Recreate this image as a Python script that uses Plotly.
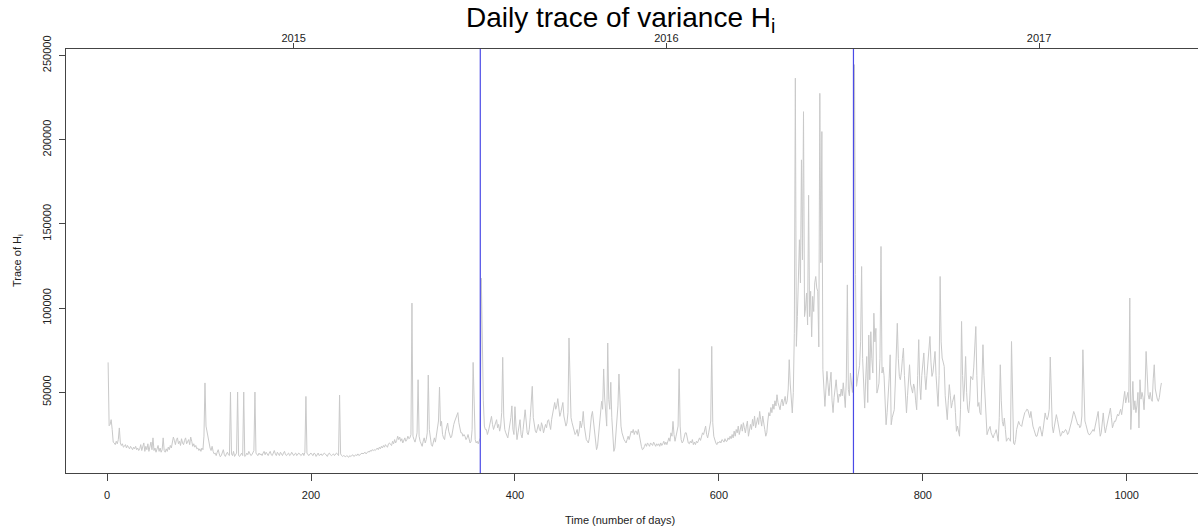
import plotly.graph_objects as go

# ---------------- data (values in thousands) ----------------
vals_2015 = [
    67.8, 30.2, 31.0, 33.8, 28.0, 20.5, 20.0, 19.0, 21.0, 19.5,
    22.0, 28.9, 20.0, 18.5, 19.5, 17.5, 18.0, 19.0, 17.0, 18.5,
    17.5, 16.5, 18.0, 17.0, 16.0, 17.5, 16.5, 18.0, 16.0, 17.0,
    15.5, 16.5, 19.0, 15.5, 17.5, 20.0, 15.0, 18.0, 16.0, 19.5,
    15.0, 17.5, 20.5, 16.0, 23.0, 15.5, 17.0, 14.5, 16.5, 18.5,
    15.0, 17.0, 14.5, 16.0, 23.0, 15.5, 14.5, 16.5, 15.0, 17.5,
    16.0, 18.5, 17.0, 20.0, 23.5, 21.5, 19.0, 22.0, 23.0, 19.5,
    21.0, 18.5, 22.5, 20.0, 19.0, 21.5, 23.0, 19.5, 20.5, 22.0,
    19.0, 23.5, 21.0, 18.0, 19.5, 17.5, 18.5, 16.5, 17.0, 15.5,
    16.5, 15.0, 17.0, 16.0, 24.0, 55.6, 30.0, 26.0, 23.0, 19.0,
    17.0, 15.5, 18.0, 15.0, 13.5, 14.0, 12.5, 14.5, 16.0, 13.5,
    11.8, 12.5, 14.5, 16.0, 13.0, 12.0, 13.5, 14.5, 13.0, 12.5,
    50.2, 13.5, 12.5, 15.0, 12.0, 13.0, 14.0, 50.2, 12.5, 12.0,
    13.5, 14.0, 12.5, 50.2, 12.0, 12.5, 14.0, 13.0, 15.0, 14.0,
    12.5, 13.0, 14.5, 15.5, 50.2, 14.0, 13.0, 12.5, 14.0, 13.0,
    13.5, 12.5, 14.0, 15.0, 13.0, 14.5, 13.5, 12.5, 14.0, 15.0,
    13.0, 12.5, 14.0, 15.5, 13.5, 12.5, 14.5, 13.0, 12.5, 14.5,
    13.5, 12.5, 14.0, 15.0, 13.0, 12.5, 13.5, 14.0, 12.5, 13.0,
    14.5, 13.0, 12.5, 13.5, 14.0, 12.5, 13.0, 14.0, 13.5, 12.5,
    13.0, 14.0, 12.5, 14.5, 47.6, 14.0, 13.0, 12.5, 13.5, 14.0,
    13.0, 12.5, 14.0, 13.5, 12.0, 13.0, 14.0, 12.5, 13.0, 13.5,
    12.5, 13.0, 14.0, 13.5, 12.5, 12.0, 13.5, 14.0, 13.0, 12.5,
    13.0, 13.5, 12.5, 13.0, 14.0, 13.5, 12.5, 48.4, 13.5, 12.5,
    12.0, 12.5, 12.0, 11.8, 12.5, 12.0, 11.5, 12.5, 12.0, 12.5,
    13.0, 12.0, 12.5, 13.0, 12.5, 13.5, 12.5, 13.0, 13.5, 14.0,
    13.5, 14.0, 14.5, 13.5, 14.0, 15.0, 14.5, 15.5, 15.0, 16.0,
    15.5, 16.0, 15.5, 16.5, 17.0, 16.0, 17.5, 16.5, 18.0, 17.0,
    18.5, 17.5, 19.0, 18.0, 17.5, 19.5, 20.0, 19.0, 18.5, 21.0,
    19.5, 22.0, 20.0, 21.5, 24.0, 22.0, 23.5, 21.0, 22.5, 20.0,
    21.5, 23.0, 21.0, 22.0, 24.0, 22.5, 23.0, 25.0, 103.0, 24.0,
    22.0, 20.5, 23.0, 26.0, 57.5, 24.0, 21.0, 19.0, 18.0, 21.0,
    23.0, 20.0, 22.0, 26.0, 60.3, 28.0, 22.0, 19.0, 18.0, 21.0,
    23.0, 20.5, 25.0, 28.0, 33.0, 53.2, 30.0, 32.8, 25.0, 23.0,
    22.0, 27.0, 29.0, 31.8, 27.0, 25.0, 23.0, 24.0, 28.0, 31.0,
    33.0, 35.0, 36.0, 38.0, 32.0, 28.0, 26.0, 26.0, 24.0, 25.0,
    24.0, 22.0, 23.0, 25.0, 22.0, 20.0, 21.0, 28.0, 67.8, 36.0,
    22.0, 20.0, 21.0, 19.5, 21.0,
]

vals_2016 = [
    23.0, 117.8, 61.5, 45.0, 30.0,
    27.9, 28.0, 25.0, 27.0, 30.0, 32.0, 35.8, 31.0, 28.0, 30.0,
    33.0, 33.8, 29.0, 31.0, 27.0, 30.0, 38.0, 70.8, 36.0, 28.0,
    26.0, 24.9, 23.0, 27.0, 30.0, 35.0, 42.0, 28.0, 25.0, 41.5,
    30.0, 22.0, 26.0, 30.0, 33.8, 25.0, 23.0, 28.0, 34.0, 39.7,
    33.0, 26.0, 24.9, 28.0, 35.0, 42.0, 53.6, 35.0, 29.0, 27.0,
    26.0, 29.0, 31.0, 28.0, 27.0, 32.0, 30.0, 26.0, 28.0, 31.0,
    29.0, 33.0, 33.8, 30.0, 28.0, 34.0, 38.0, 41.0, 44.0, 40.0,
    42.0, 46.3, 40.0, 35.8, 38.0, 42.0, 44.0, 36.0, 33.0, 30.0,
    31.8, 38.0, 82.3, 45.0, 35.0, 32.0, 30.0, 28.0, 25.0, 26.0,
    28.0, 24.0, 27.0, 33.0, 29.0, 32.0, 38.7, 30.0, 24.0, 22.0,
    21.0, 20.0, 23.0, 30.0, 36.0, 38.7, 32.0, 26.0, 20.0, 16.0,
    18.0, 24.0, 30.0, 38.0, 44.7, 40.0, 63.9, 46.7, 38.0, 30.0,
    79.3, 45.7, 40.0, 56.0, 35.0, 20.0, 15.0, 17.0, 24.0, 30.0,
    42.0, 60.9, 40.0, 30.0, 26.0, 23.0, 22.0, 21.0, 20.0, 22.0,
    24.0, 22.0, 25.0, 27.0, 26.0, 28.0, 25.0, 27.0, 26.9, 25.0,
    28.0, 24.0, 21.0, 18.0, 16.0, 16.5, 18.0, 19.5, 18.0, 20.0,
    19.0, 18.0, 20.0, 19.5, 18.5, 20.5, 19.0, 18.0, 19.5, 18.5,
    19.5, 18.0, 20.0, 18.5, 19.5, 21.0, 19.0, 20.5, 19.0, 21.5,
    23.0, 21.0, 26.0, 24.0, 32.8, 25.0, 21.0, 24.0, 28.0, 30.0,
    64.0, 30.0, 22.0, 20.0, 21.0, 24.0, 26.0, 26.0, 23.0, 20.0,
    19.5, 21.0, 20.0, 22.0, 19.0, 20.5, 19.0, 21.0, 20.0, 22.0,
    23.0, 21.5, 24.0, 26.0, 25.0, 28.0, 30.0, 25.0, 23.0, 26.0,
    29.0, 33.0, 77.3, 32.0, 24.0, 21.0, 20.0, 19.0, 20.5, 20.0,
    21.0, 20.0, 22.0, 21.5, 20.5, 22.5, 21.0, 21.0, 23.0, 22.0,
    24.0, 22.5, 25.0, 23.0, 27.0, 24.0, 28.0, 26.0, 30.0, 25.0,
    28.0, 31.0, 27.0, 32.0, 29.0, 26.0, 30.0, 33.0, 24.0, 29.0,
    31.0, 28.0, 34.0, 30.0, 36.0, 29.0, 33.0, 35.0, 31.0, 38.7,
    34.0, 30.0, 36.0, 33.0, 28.0, 24.0, 26.0, 33.0, 38.0, 36.0,
    41.0, 38.0, 43.0, 40.0, 45.0, 42.0, 48.6, 44.0, 41.0, 39.7,
    44.0, 46.0, 42.0, 45.0, 47.6, 43.0, 45.0, 52.0, 69.4, 55.0,
    45.0, 37.8, 50.0, 85.0, 236.5, 77.3, 95.0, 120.0, 140.6, 115.0,
    188.0, 128.7, 216.6, 95.0, 100.0, 109.0, 90.0, 167.0, 95.0, 110.0,
    83.0, 107.0, 98.0, 115.0, 118.8, 112.0, 110.0, 77.0, 227.5, 127.0,
    204.8, 63.5, 50.0, 41.7, 52.0, 62.5, 55.0, 48.0, 56.0, 62.0,
    45.0, 38.0, 47.0, 52.0, 57.5, 50.0, 44.0, 49.0, 47.6, 52.0,
    48.0, 55.7, 50.0, 41.0, 58.0, 113.8, 51.6, 48.0, 61.5, 55.0,
    50.0,
]

vals_2017 = [
    60.0, 244.5, 120.0, 53.6, 58.0, 63.5, 66.0, 80.0, 124.7,
    70.0, 52.0, 40.7, 58.0, 71.3, 44.0, 84.0, 57.5, 86.0, 70.0,
    61.5, 97.0, 80.0, 88.0, 49.6, 52.0, 55.5, 70.0, 136.6, 61.5,
    65.0, 60.0, 45.0, 30.8, 38.0, 45.7, 58.0, 72.3, 30.8, 35.0,
    38.0, 39.7, 55.0, 75.0, 91.0, 70.0, 59.5, 57.5, 62.0, 70.0,
    76.3, 60.0, 45.0, 37.8, 48.0, 58.0, 66.4, 55.0, 52.0, 49.6,
    55.0, 52.6, 45.0, 39.7, 60.0, 81.3, 55.0, 45.7, 60.0, 68.0,
    73.4, 60.0, 51.6, 60.0, 70.0, 78.0, 83.2, 68.0, 59.5, 62.0,
    68.0, 74.3, 60.0, 48.0, 41.7, 60.0, 118.8, 80.0, 70.4, 68.0,
    65.4, 48.0, 38.0, 33.8, 45.0, 54.6, 48.0, 40.7, 44.0, 46.0,
    48.6, 38.0, 26.9, 30.0, 27.0, 24.0, 40.0, 92.1, 60.0, 44.7,
    55.0, 71.3, 50.0, 40.0, 37.8, 45.0, 59.5, 58.0, 57.5, 65.0,
    75.0, 89.1, 60.0, 41.7, 44.0, 38.0, 36.8, 55.0, 78.3, 60.0,
    47.6, 35.0, 24.9, 27.0, 28.0, 29.8, 26.0, 24.0, 23.0, 25.0,
    26.0, 27.9, 24.0, 21.0, 35.0, 66.4, 45.0, 32.8, 30.0, 34.8,
    28.0, 21.0, 22.0, 23.0, 22.0, 21.0, 80.2, 40.0, 20.0, 19.0,
    22.0, 28.0, 30.0, 32.8, 31.0, 30.0, 29.8, 33.0, 36.0, 38.0,
    38.7, 40.0, 39.7, 36.0, 35.0, 38.7, 33.0, 30.0, 28.0, 26.0,
    24.0, 24.0, 27.0, 29.0, 29.8, 27.0, 24.0, 28.0, 33.0, 37.8,
    35.0, 33.8, 36.0, 40.0, 71.0, 45.0, 30.0, 26.0, 30.0, 33.0,
    36.8, 34.0, 30.0, 27.0, 24.0, 25.0, 27.0, 26.0, 26.9, 28.0,
    27.0, 25.0, 26.0, 28.0, 30.0, 33.0, 36.0, 38.7, 37.0, 35.0,
    32.0, 30.8, 31.0, 29.0, 30.0, 36.0, 75.3, 45.0, 33.0, 30.8,
    28.0, 26.0, 24.9, 25.0, 26.0, 27.0, 28.0, 26.9, 30.0, 34.0,
    36.0, 38.7, 30.0, 24.0, 26.0, 32.0, 37.8, 30.0, 26.0, 29.0,
    32.0, 34.8, 36.0, 40.7, 35.0, 29.0, 31.0, 33.0, 32.8, 35.0,
    37.0, 36.0, 38.7, 40.0, 36.8, 42.0, 45.0, 50.6, 43.8, 48.0,
    50.0, 44.0, 106.0, 28.0, 45.0, 56.5, 39.7, 45.0, 38.0, 42.0,
    50.0, 28.9, 57.5, 46.0, 50.0, 47.0, 39.7, 52.0, 74.3, 60.0,
    48.6, 46.0, 50.0, 46.0, 44.7, 58.0, 66.4, 52.0, 48.6, 46.0,
    44.7, 47.0, 52.0, 55.6,
]

year_labels = ["2015", "2016", "2017"]
year_mid_days = [183, 548.5, 914]
year_start_lines = [366, 732]
x_ticks = [0, 200, 400, 600, 800, 1000]
y_ticks = [50000, 100000, 150000, 200000, 250000]
y_range = [2164, 253808]

# ---------------- build ----------------
trace_k = vals_2015 + vals_2016 + vals_2017
trace_vals = [v * 1000 for v in trace_k]          # thousands -> units
days = list(range(1, len(trace_vals) + 1))

FONT = "Liberation Sans, Arial, Helvetica, sans-serif"
AX = "#444444"
TXT = "#222222"
VLINE = "#4a4ae6"

fig = go.Figure()
fig.add_trace(go.Scatter(
    x=days, y=trace_vals, mode="lines",
    line=dict(color="#c9c9c9", width=1),
    showlegend=False, hoverinfo="skip",
))

# year-boundary vertical lines, one trace each
for d in year_start_lines:
    fig.add_trace(go.Scatter(
        x=[d, d], y=y_range, mode="lines",
        line=dict(color=VLINE, width=1.2),
        showlegend=False, hoverinfo="skip",
    ))

# invisible trace so the top (year) axis is drawn
fig.add_trace(go.Scatter(
    x=year_mid_days, y=[None] * len(year_mid_days), xaxis="x2",
    mode="markers", showlegend=False, hoverinfo="skip",
))

xr = [-40.3, 1069.9]
fig.update_layout(
    width=1198, height=531,
    margin=dict(l=66, r=0, t=49, b=58, pad=0),
    paper_bgcolor="white", plot_bgcolor="white",
    font=dict(family=FONT, size=11, color=TXT),
    hovermode=False,
    xaxis=dict(
        range=xr, tickvals=x_ticks, ticks="outside", ticklen=7, tickwidth=1,
        tickcolor=AX, showline=True, linecolor=AX, linewidth=1, automargin=False,
        showgrid=False, zeroline=False, tickfont=dict(size=11, color=TXT),
        ticklabelstandoff=5, showspikes=False,
    ),
    xaxis2=dict(
        overlaying="x", side="top", anchor="y", range=xr, automargin=False,
        tickvals=year_mid_days, ticktext=year_labels, ticks="outside",
        ticklen=5, tickwidth=1, tickcolor=AX, showline=True, linecolor=AX,
        linewidth=1, showgrid=False, zeroline=False, showspikes=False,
        tickfont=dict(size=11, color=TXT), ticklabelstandoff=-3,
    ),
    yaxis=dict(
        range=y_range, tickvals=y_ticks, automargin=False,
        ticktext=[str(v) for v in y_ticks], tickangle=-90,
        ticks="outside", ticklen=6, tickwidth=1, tickcolor=AX,
        showline=True, linecolor=AX, linewidth=1, showgrid=False,
        zeroline=False, tickfont=dict(size=11, color=TXT),
        ticklabelstandoff=4, showspikes=False,
    ),
    annotations=[
        dict(text="Daily trace of variance H<sub>i</sub>", xref="paper", yref="paper",
             x=0.4894, y=1.069, xanchor="center", yanchor="middle", showarrow=False,
             font=dict(size=28, color="#000000", family=FONT)),
        dict(text="Time (number of days)", xref="paper", yref="paper",
             x=0.4894, y=-0.110, xanchor="center", yanchor="middle", showarrow=False,
             font=dict(size=11, color=TXT, family=FONT)),
        dict(text="Trace of H<sub>i</sub>", xref="paper", yref="paper",
             x=-0.0424, y=0.5, xanchor="center", yanchor="middle", showarrow=False,
             textangle=-90, font=dict(size=11, color=TXT, family=FONT)),
    ],
)

fig.write_html(
    "out.html",
    config={"displayModeBar": False, "staticPlot": True},
    post_script="document.body.style.margin='0px';document.body.style.overflow='hidden';",
)
